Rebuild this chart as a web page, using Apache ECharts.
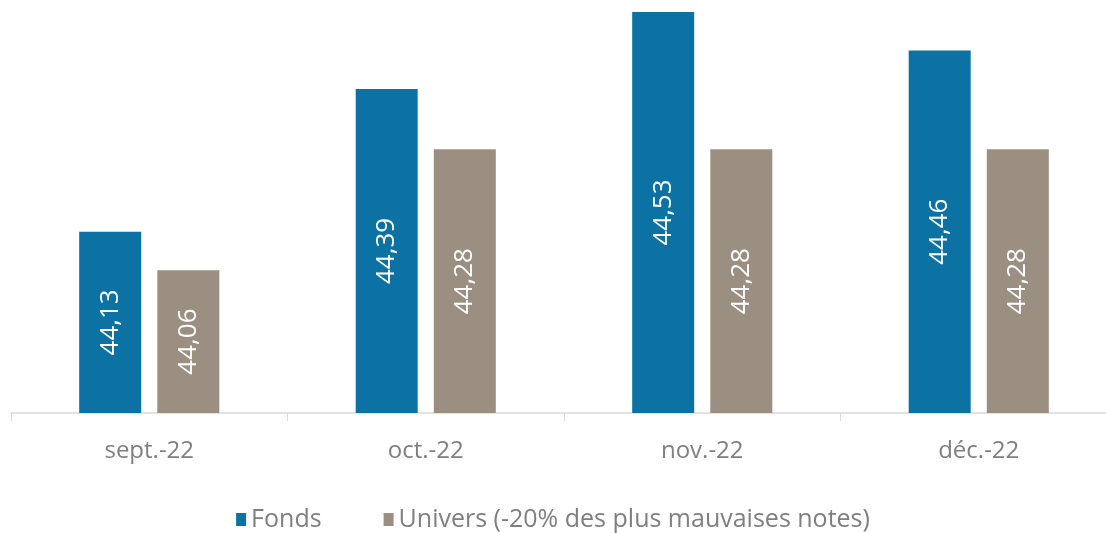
<!DOCTYPE html>
<html>
<head>
<meta charset="utf-8">
<script src="https://cdn.jsdelivr.net/npm/echarts@6/dist/echarts.min.js"></script>
<style>
  html, body { margin: 0; padding: 0; background: #fff; }
  #chart { width: 1106px; height: 533px; }
</style>
</head>
<body>
<div id="chart"></div>
<script>
var months = ['sept.-22', 'oct.-22', 'nov.-22', 'déc.-22'];
var fonds = [44.13, 44.39, 44.53, 44.46];
var univers = [44.06, 44.28, 44.28, 44.28];

var chart = echarts.init(document.getElementById('chart'));

function fmt(p) {
  return p.value.toFixed(2).replace('.', ',');
}

var labelStyle = {
  show: true,
  position: 'inside',
  rotate: 90,
  color: '#fff',
  fontSize: 26,
  fontFamily: 'Open Sans',
  formatter: fmt
};

chart.setOption({
  animation: false,
  grid: { left: 11, width: 1106, top: 12, bottom: 120, outerBoundsMode: 'none' },
  legend: {
    top: 502,
    left: 'center',
    icon: 'rect',
    itemWidth: 10,
    itemHeight: 13,
    itemGap: 62,
    textStyle: { color: '#7f7f7f', fontSize: 25, fontFamily: 'Open Sans' },
    data: ['Fonds', 'Univers (-20% des plus mauvaises notes)']
  },
  xAxis: {
    type: 'category',
    data: months,
    axisLine: { lineStyle: { color: '#d9d9d9', width: 1.5 } },
    axisTick: { show: true, length: 8, lineStyle: { color: '#d9d9d9' } },
    axisLabel: { color: '#7f7f7f', fontSize: 24, fontFamily: 'Open Sans', margin: 26 }
  },
  yAxis: {
    type: 'value',
    min: 43.8,
    max: 44.53,
    show: false,
    splitLine: { show: false }
  },
  series: [
    {
      name: 'Fonds',
      type: 'bar',
      data: fonds,
      barWidth: 62,
      barGap: '26%',
      itemStyle: { color: '#0b72a3' },
      label: labelStyle
    },
    {
      name: 'Univers (-20% des plus mauvaises notes)',
      type: 'bar',
      data: univers,
      barWidth: 62,
      itemStyle: { color: '#9b8f82' },
      label: labelStyle
    }
  ]
});
</script>
</body>
</html>
